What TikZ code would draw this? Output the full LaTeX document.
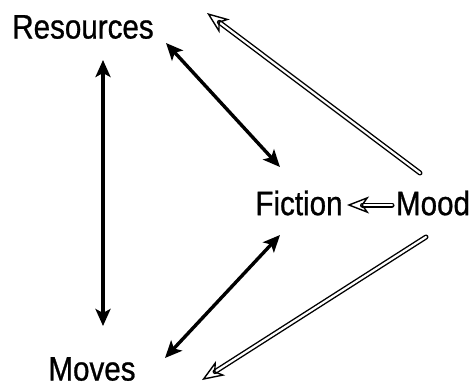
\documentclass[tikz,border=0pt]{standalone}
\usepackage{fontspec}
\setmainfont[FakeStretch=0.87,FakeBold=0.8]{Liberation Sans}
\usepackage{tikz}
\usetikzlibrary{arrows.meta}

\begin{document}
\begin{tikzpicture} [
    x=1pt, y=-1pt,
    label/.style={inner sep=0pt, font=\fontsize{34}{36}\selectfont},
    link/.style={line width=3.4pt, {Stealth[length=17pt,width=15pt,inset=4pt]}-{Stealth[length=17pt,width=15pt,inset=4pt]}},
    influence/.style={draw=black, double=white, double distance=2.2pt, line width=1.4pt, line cap=round, -{Stealth[open,length=22pt,width=17pt,inset=6pt,line width=1.4pt]}}
]
    \useasboundingbox (0,0) rectangle (473,388);

    % labels
    \node[label] (res) at (83, 27) {Resources};
    \node[label] (fic) at (299, 203) {Fiction};
    \node[label] (mood) at (433, 203) {Mood};
    \node[label] (mov) at (92, 369) {Moves};

    % two-way links
    \draw [link] ([shift={(20,33)}]res.center) -- ([shift={(11,-43)}]mov.center);
    \draw [link] ([shift={(83,16)}]res.center) -- ([shift={(-19,-36)}]fic.center);
    \draw [link] ([shift={(-19,32)}]fic.center) -- ([shift={(73,-11)}]mov.center);

    % mood
    \draw [influence] ([shift={(-13,-30)}]mood.center) -- ([shift={(124,-14)}]res.center);
    \draw [influence] ([shift={(-41,2)}]mood.center) -- ([shift={(48,2)}]fic.center);
    \draw [influence] ([shift={(-7,34)}]mood.center) -- ([shift={(110,11)}]mov.center);

\end{tikzpicture}
\end{document}
